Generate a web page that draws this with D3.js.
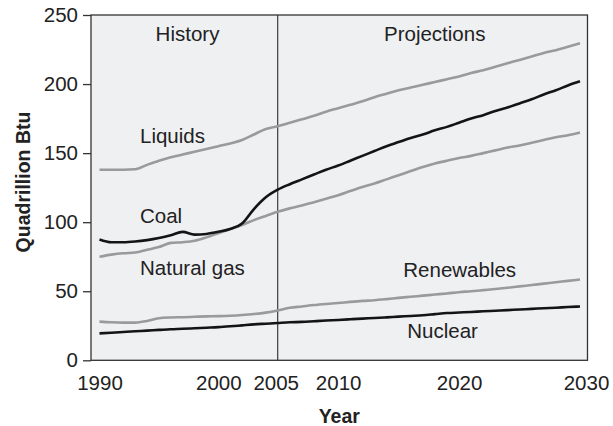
<!DOCTYPE html>
<html>
<head>
<meta charset="utf-8">
<script src="https://cdn.jsdelivr.net/npm/d3@7"></script>
<style>
  html, body { margin: 0; padding: 0; background: #fff; }
  svg text { font-family: "Liberation Sans", Arial, Helvetica, sans-serif; fill: #222; }
</style>
</head>
<body>
<svg id="chart" width="613" height="426"></svg>
<script>
// World marketed energy use by fuel type, 1990–2030 (quadrillion Btu)
const years = [1990, 1991, 1992, 1993, 1994, 1995, 1996, 1997, 1998, 1999,
  2000, 2001, 2002, 2003, 2004, 2005, 2006, 2007, 2008, 2009,
  2010, 2011, 2012, 2013, 2014, 2015, 2016, 2017, 2018, 2019,
  2020, 2021, 2022, 2023, 2024, 2025, 2026, 2027, 2028, 2029, 2030];

const liquids = [138, 138, 138, 138.3, 141.5, 144.5, 147, 149, 151, 153,
  155, 157, 159.5, 163.5, 167.5, 169.5, 172, 174.5, 177, 180,
  182.5, 185, 187.5, 190.5, 193, 195.5, 197.5, 199.5, 201.5, 203.5,
  205.5, 208, 210, 212.5, 215, 217.5, 220, 222.5, 224.5, 227, 229.5];

const coal = [87.5, 85.5, 85.5, 86, 87, 88.5, 90.5, 93, 91, 91.5,
  93, 95, 99, 109.5, 118, 123.5, 127.5, 131, 134.5, 138,
  141, 144.5, 148, 151.5, 155, 158, 161, 163.5, 166.5, 169,
  172, 175, 177.5, 180.5, 183, 186, 189, 192.5, 195.5, 199, 202];

const naturalGas = [75, 76.5, 77.5, 78, 80, 82, 85, 85.5, 86.5, 89,
  92, 95, 98, 101.5, 104.5, 107.5, 110, 112, 114.5, 117,
  119.5, 122.5, 125.5, 128, 131, 134, 137, 140, 142.5, 144.5,
  146.5, 148, 150, 152, 154, 155.5, 157.5, 159.5, 161.5, 163, 165];

const renewables = [28, 27.5, 27.3, 27.3, 28.5, 30.5, 31, 31.2, 31.5, 31.8,
  32, 32.3, 32.8, 33.5, 34.5, 36, 38, 39, 40, 40.8,
  41.5, 42.3, 43, 43.5, 44.3, 45.2, 46, 46.8, 47.6, 48.4,
  49.3, 50, 50.8, 51.6, 52.5, 53.5, 54.5, 55.5, 56.5, 57.5, 58.5];

const nuclear = [19.5, 20, 20.5, 21, 21.5, 22, 22.5, 22.8, 23.2, 23.6,
  24, 24.6, 25.3, 26, 26.5, 27, 27.5, 27.8, 28.3, 28.8,
  29.2, 29.7, 30.2, 30.6, 31.1, 31.6, 32.1, 32.6, 33.4, 34.2,
  34.6, 35, 35.5, 35.9, 36.3, 36.8, 37.2, 37.7, 38.1, 38.6, 39];

const xTicks = [1990, 2000, 2005, 2010, 2020, 2030];
const yTicks = [0, 50, 100, 150, 200, 250];
const splitYear = 2005;

const seriesList = [
  { name: "Liquids", values: liquids, color: "#9a9a9a" },
  { name: "Natural gas", values: naturalGas, color: "#9a9a9a" },
  { name: "Renewables", values: renewables, color: "#9a9a9a" },
  { name: "Coal", values: coal, color: "#141414" },
  { name: "Nuclear", values: nuclear, color: "#141414" }
];

const svg = d3.select("#chart");
const plot = { left: 91, right: 587.5, top: 15, bottom: 360.3 };

// History and projection periods are spaced slightly differently
const x = d3.scaleLinear()
  .domain([1990, splitYear, 2030])
  .range([99.5, 277.7, 580]);
const y = d3.scaleLinear().domain([0, 250]).range([360.3, 15]);

// plot background
svg.append("rect")
  .attr("x", plot.left).attr("y", plot.top)
  .attr("width", plot.right - plot.left).attr("height", plot.bottom - plot.top)
  .attr("fill", "#eff0f2");

// history / projections divider
svg.append("line")
  .attr("x1", x(splitYear)).attr("x2", x(splitYear))
  .attr("y1", plot.top).attr("y2", plot.bottom)
  .attr("stroke", "#3a3a3a").attr("stroke-width", 1.2);

// series lines
const line = d3.line()
  .x((d, i) => x(years[i]))
  .y(d => y(d))
  .curve(d3.curveMonotoneX);

svg.append("g").selectAll("path")
  .data(seriesList)
  .join("path")
  .attr("d", s => line(s.values))
  .attr("fill", "none")
  .attr("stroke", s => s.color)
  .attr("stroke-width", 2.6)
  .attr("stroke-linejoin", "round");

// plot frame
svg.append("rect")
  .attr("x", plot.left).attr("y", plot.top)
  .attr("width", plot.right - plot.left).attr("height", plot.bottom - plot.top)
  .attr("fill", "none").attr("stroke", "#333").attr("stroke-width", 1.3);

// y axis
const yAxis = svg.append("g")
  .attr("transform", `translate(${plot.left},0)`)
  .call(d3.axisLeft(y).tickValues(yTicks).tickSize(8).tickPadding(5));
yAxis.select(".domain").remove();
yAxis.selectAll(".tick line").attr("stroke", "#333").attr("stroke-width", 1.3);
yAxis.selectAll(".tick text").style("font-size", "20.5px").attr("fill", "#222");

// x axis
const xAxis = svg.append("g")
  .attr("transform", `translate(0,${plot.bottom})`)
  .call(d3.axisBottom(x).tickValues(xTicks).tickFormat(d3.format("d")).tickSize(0).tickPadding(15));
xAxis.select(".domain").remove();
xAxis.selectAll(".tick text")
  .style("font-size", "20.5px").attr("fill", "#222")
  .attr("dx", d => d === 2030 ? 6 : (d === 2005 ? -2 : 0));

// axis titles
svg.append("text")
  .attr("x", (plot.left + plot.right) / 2).attr("y", 422.5)
  .attr("text-anchor", "middle")
  .style("font-size", "19.5px").style("font-weight", "bold")
  .text("Year");

svg.append("text")
  .attr("transform", "translate(29.5,182) rotate(-90)")
  .attr("text-anchor", "middle")
  .style("font-size", "19.5px").style("font-weight", "bold")
  .text("Quadrillion Btu");

// period headings and series labels
const notes = [
  { text: "History", x: 187.5, y: 41, anchor: "middle" },
  { text: "Projections", x: 434.7, y: 41, anchor: "middle" },
  { text: "Liquids", x: 140, y: 143.3, anchor: "start" },
  { text: "Coal", x: 140, y: 223.3, anchor: "start" },
  { text: "Natural gas", x: 140, y: 275, anchor: "start" },
  { text: "Renewables", x: 403.3, y: 277.3, anchor: "start" },
  { text: "Nuclear", x: 407.3, y: 338.3, anchor: "start" }
];
svg.append("g").selectAll("text")
  .data(notes)
  .join("text")
  .attr("x", d => d.x).attr("y", d => d.y)
  .attr("text-anchor", d => d.anchor)
  .style("font-size", "20.5px")
  .text(d => d.text);
</script>
</body>
</html>
